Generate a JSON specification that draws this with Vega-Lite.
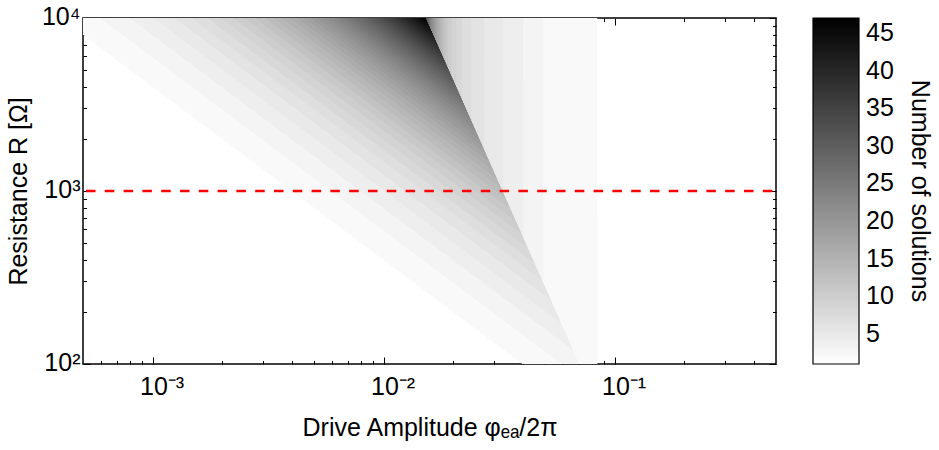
{
  "$schema": "https://vega.github.io/schema/vega-lite/v6.json",
  "width": 693,
  "height": 346,
  "autosize": "none",
  "padding": {"left": 83, "top": 18, "right": 163, "bottom": 86},
  "config": {
    "view": {"stroke": "#000000", "strokeWidth": 1.5},
    "font": "Liberation Sans",
    "axis": {"domain": false, "grid": false, "zindex": 1, "tickColor": "#000000", "tickWidth": 1, "labelColor": "#000000", "titleColor": "#000000", "labelFont": "Liberation Sans", "titleFont": "Liberation Sans", "labelFontSize": 25, "titleFontSize": 25, "titleFontWeight": "normal"}
  },
  "resolve": {"axis": {"x": "independent", "y": "independent"}},
  "datasets": {
    "bands": [
      {"n":2,"logPhi":-3.4,"logRlo":4.0019,"logRhi":4},{"n":2,"logPhi":-1.0749,"logRlo":1.6768,"logRhi":4},{"n":2,"logPhi":-1.0744,"logRlo":1.6763,"logRhi":1.766},{"n":2,"logPhi":-1.0302,"logRlo":1.6321,"logRhi":1.6321},
      {"n":3,"logPhi":-3.4,"logRlo":4.1713,"logRhi":4},{"n":3,"logPhi":-1.3087,"logRlo":2.0800,"logRhi":4},{"n":3,"logPhi":-1.3082,"logRlo":2.0795,"logRhi":2.468},{"n":3,"logPhi":-1.1149,"logRlo":1.8862,"logRhi":1.8862},
      {"n":4,"logPhi":-3.4,"logRlo":4.3009,"logRhi":4},{"n":4,"logPhi":-1.3952,"logRlo":2.2961,"logRhi":4},{"n":4,"logPhi":-1.3947,"logRlo":2.2956,"logRhi":2.727},{"n":4,"logPhi":-1.1797,"logRlo":2.0806,"logRhi":2.0806},
      {"n":5,"logPhi":-3.4,"logRlo":4.4058,"logRhi":4},{"n":5,"logPhi":-1.4818,"logRlo":2.4876,"logRhi":4},{"n":5,"logPhi":-1.4813,"logRlo":2.4871,"logRhi":2.987},{"n":5,"logPhi":-1.2322,"logRlo":2.2380,"logRhi":2.2380},
      {"n":6,"logPhi":-3.4,"logRlo":4.4940,"logRhi":4},{"n":6,"logPhi":-1.5641,"logRlo":2.6581,"logRhi":4},{"n":6,"logPhi":-1.5636,"logRlo":2.6576,"logRhi":3.234},{"n":6,"logPhi":-1.2763,"logRlo":2.3703,"logRhi":2.3703},
      {"n":7,"logPhi":-3.4,"logRlo":4.5699,"logRhi":4},{"n":7,"logPhi":-1.6203,"logRlo":2.7902,"logRhi":4},{"n":7,"logPhi":-1.6198,"logRlo":2.7897,"logRhi":3.402},{"n":7,"logPhi":-1.3142,"logRlo":2.4841,"logRhi":2.4841},
      {"n":8,"logPhi":-3.4,"logRlo":4.6368,"logRhi":4},{"n":8,"logPhi":-1.6593,"logRlo":2.8961,"logRhi":4},{"n":8,"logPhi":-1.6588,"logRlo":2.8956,"logRhi":3.519},{"n":8,"logPhi":-1.3477,"logRlo":2.5845,"logRhi":2.5845},
      {"n":9,"logPhi":-3.4,"logRlo":4.6964,"logRhi":4},{"n":9,"logPhi":-1.6853,"logRlo":2.9817,"logRhi":4},{"n":9,"logPhi":-1.6848,"logRlo":2.9812,"logRhi":3.597},{"n":9,"logPhi":-1.3775,"logRlo":2.6739,"logRhi":2.6739},
      {"n":10,"logPhi":-3.4,"logRlo":4.7502,"logRhi":4},{"n":10,"logPhi":-1.7069,"logRlo":3.0571,"logRhi":4},{"n":10,"logPhi":-1.7064,"logRlo":3.0566,"logRhi":3.662},{"n":10,"logPhi":-1.4044,"logRlo":2.7546,"logRhi":2.7546},
      {"n":11,"logPhi":-3.4,"logRlo":4.7992,"logRhi":4},{"n":11,"logPhi":-1.7221,"logRlo":3.1213,"logRhi":4},{"n":11,"logPhi":-1.7216,"logRlo":3.1208,"logRhi":3.708},{"n":11,"logPhi":-1.4289,"logRlo":2.8281,"logRhi":2.8281},
      {"n":12,"logPhi":-3.4,"logRlo":4.8443,"logRhi":4},{"n":12,"logPhi":-1.7329,"logRlo":3.1772,"logRhi":4},{"n":12,"logPhi":-1.7324,"logRlo":3.1767,"logRhi":3.740},{"n":12,"logPhi":-1.4514,"logRlo":2.8957,"logRhi":2.8957},
      {"n":13,"logPhi":-3.4,"logRlo":4.8860,"logRhi":4},{"n":13,"logPhi":-1.7416,"logRlo":3.2276,"logRhi":4},{"n":13,"logPhi":-1.7411,"logRlo":3.2271,"logRhi":3.766},{"n":13,"logPhi":-1.4723,"logRlo":2.9583,"logRhi":2.9583},
      {"n":14,"logPhi":-3.4,"logRlo":4.9247,"logRhi":4},{"n":14,"logPhi":-1.7481,"logRlo":3.2728,"logRhi":4},{"n":14,"logPhi":-1.7476,"logRlo":3.2723,"logRhi":3.786},{"n":14,"logPhi":-1.4916,"logRlo":3.0163,"logRhi":3.0163},
      {"n":15,"logPhi":-3.4,"logRlo":4.9609,"logRhi":4},{"n":15,"logPhi":-1.7545,"logRlo":3.3154,"logRhi":4},{"n":15,"logPhi":-1.7540,"logRlo":3.3149,"logRhi":3.805},{"n":15,"logPhi":-1.5097,"logRlo":3.0706,"logRhi":3.0706},
      {"n":16,"logPhi":-3.4,"logRlo":4.9949,"logRhi":4},{"n":16,"logPhi":-1.7610,"logRlo":3.3559,"logRhi":4},{"n":16,"logPhi":-1.7605,"logRlo":3.3554,"logRhi":3.8245},{"n":16,"logPhi":-1.5267,"logRlo":3.1216,"logRhi":3.1216},
      {"n":17,"logPhi":-3.4,"logRlo":5.0269,"logRhi":4},{"n":17,"logPhi":-1.7675,"logRlo":3.3944,"logRhi":4},{"n":17,"logPhi":-1.7670,"logRlo":3.3939,"logRhi":3.844},{"n":17,"logPhi":-1.5427,"logRlo":3.1696,"logRhi":3.1696},
      {"n":18,"logPhi":-3.4,"logRlo":5.0570,"logRhi":4},{"n":18,"logPhi":-1.7719,"logRlo":3.4289,"logRhi":4},{"n":18,"logPhi":-1.7714,"logRlo":3.4284,"logRhi":3.857},{"n":18,"logPhi":-1.5578,"logRlo":3.2148,"logRhi":3.2148},
      {"n":19,"logPhi":-3.4,"logRlo":5.0857,"logRhi":4},{"n":19,"logPhi":-1.7762,"logRlo":3.4619,"logRhi":4},{"n":19,"logPhi":-1.7757,"logRlo":3.4614,"logRhi":3.870},{"n":19,"logPhi":-1.5721,"logRlo":3.2578,"logRhi":3.2578},
      {"n":20,"logPhi":-3.4,"logRlo":5.1130,"logRhi":4},{"n":20,"logPhi":-1.7805,"logRlo":3.4935,"logRhi":4},{"n":20,"logPhi":-1.7800,"logRlo":3.4930,"logRhi":3.883},{"n":20,"logPhi":-1.5858,"logRlo":3.2988,"logRhi":3.2988},
      {"n":21,"logPhi":-3.4,"logRlo":5.1390,"logRhi":4},{"n":21,"logPhi":-1.7848,"logRlo":3.5238,"logRhi":4},{"n":21,"logPhi":-1.7843,"logRlo":3.5233,"logRhi":3.896},{"n":21,"logPhi":-1.5988,"logRlo":3.3378,"logRhi":3.3378},
      {"n":22,"logPhi":-3.4,"logRlo":5.1638,"logRhi":4},{"n":22,"logPhi":-1.7892,"logRlo":3.5530,"logRhi":4},{"n":22,"logPhi":-1.7887,"logRlo":3.5525,"logRhi":3.909},{"n":22,"logPhi":-1.6112,"logRlo":3.3750,"logRhi":3.3750},
      {"n":23,"logPhi":-3.4,"logRlo":5.1876,"logRhi":4},{"n":23,"logPhi":-1.7935,"logRlo":3.5811,"logRhi":4},{"n":23,"logPhi":-1.7930,"logRlo":3.5806,"logRhi":3.922},{"n":23,"logPhi":-1.6231,"logRlo":3.4107,"logRhi":3.4107},
      {"n":24,"logPhi":-3.4,"logRlo":5.2104,"logRhi":4},{"n":24,"logPhi":-1.7965,"logRlo":3.6069,"logRhi":4},{"n":24,"logPhi":-1.7960,"logRlo":3.6064,"logRhi":3.931},{"n":24,"logPhi":-1.6345,"logRlo":3.4449,"logRhi":3.4449},
      {"n":25,"logPhi":-3.4,"logRlo":5.2323,"logRhi":4},{"n":25,"logPhi":-1.7996,"logRlo":3.6319,"logRhi":4},{"n":25,"logPhi":-1.7991,"logRlo":3.6314,"logRhi":3.940},{"n":25,"logPhi":-1.6454,"logRlo":3.4777,"logRhi":3.4777},
      {"n":26,"logPhi":-3.4,"logRlo":5.2534,"logRhi":4},{"n":26,"logPhi":-1.8022,"logRlo":3.6556,"logRhi":4},{"n":26,"logPhi":-1.8017,"logRlo":3.6551,"logRhi":3.948},{"n":26,"logPhi":-1.6560,"logRlo":3.5094,"logRhi":3.5094},
      {"n":27,"logPhi":-3.4,"logRlo":5.2736,"logRhi":4},{"n":27,"logPhi":-1.8048,"logRlo":3.6784,"logRhi":4},{"n":27,"logPhi":-1.8043,"logRlo":3.6779,"logRhi":3.956},{"n":27,"logPhi":-1.6661,"logRlo":3.5397,"logRhi":3.5397},
      {"n":28,"logPhi":-3.4,"logRlo":5.2931,"logRhi":4},{"n":28,"logPhi":-1.8074,"logRlo":3.7005,"logRhi":4},{"n":28,"logPhi":-1.8069,"logRlo":3.7000,"logRhi":3.964},{"n":28,"logPhi":-1.6758,"logRlo":3.5689,"logRhi":3.5689},
      {"n":29,"logPhi":-3.4,"logRlo":5.3121,"logRhi":4},{"n":29,"logPhi":-1.8095,"logRlo":3.7216,"logRhi":4},{"n":29,"logPhi":-1.8090,"logRlo":3.7211,"logRhi":3.970},{"n":29,"logPhi":-1.6853,"logRlo":3.5974,"logRhi":3.5974},
      {"n":30,"logPhi":-3.4,"logRlo":5.3303,"logRhi":4},{"n":30,"logPhi":-1.8117,"logRlo":3.7420,"logRhi":4},{"n":30,"logPhi":-1.8112,"logRlo":3.7415,"logRhi":3.977},{"n":30,"logPhi":-1.6944,"logRlo":3.6247,"logRhi":3.6247},
      {"n":31,"logPhi":-3.4,"logRlo":5.3480,"logRhi":4},{"n":31,"logPhi":-1.8195,"logRlo":3.7675,"logRhi":4},{"n":31,"logPhi":-1.7033,"logRlo":3.6513,"logRhi":3.6513},
      {"n":32,"logPhi":-3.4,"logRlo":5.3651,"logRhi":4},{"n":32,"logPhi":-1.8195,"logRlo":3.7846,"logRhi":4},{"n":32,"logPhi":-1.7118,"logRlo":3.6769,"logRhi":3.6769},
      {"n":33,"logPhi":-3.4,"logRlo":5.3818,"logRhi":4},{"n":33,"logPhi":-1.8195,"logRlo":3.8013,"logRhi":4},{"n":33,"logPhi":-1.7202,"logRlo":3.7020,"logRhi":3.7020},
      {"n":34,"logPhi":-3.4,"logRlo":5.3980,"logRhi":4},{"n":34,"logPhi":-1.8195,"logRlo":3.8175,"logRhi":4},{"n":34,"logPhi":-1.7283,"logRlo":3.7263,"logRhi":3.7263},
      {"n":35,"logPhi":-3.4,"logRlo":5.4135,"logRhi":4},{"n":35,"logPhi":-1.8195,"logRlo":3.8330,"logRhi":4},{"n":35,"logPhi":-1.7360,"logRlo":3.7495,"logRhi":3.7495},
      {"n":36,"logPhi":-3.4,"logRlo":5.4288,"logRhi":4},{"n":36,"logPhi":-1.8195,"logRlo":3.8483,"logRhi":4},{"n":36,"logPhi":-1.7437,"logRlo":3.7725,"logRhi":3.7725},
      {"n":37,"logPhi":-3.4,"logRlo":5.4437,"logRhi":4},{"n":37,"logPhi":-1.8195,"logRlo":3.8632,"logRhi":4},{"n":37,"logPhi":-1.7511,"logRlo":3.7948,"logRhi":3.7948},
      {"n":38,"logPhi":-3.4,"logRlo":5.4581,"logRhi":4},{"n":38,"logPhi":-1.8195,"logRlo":3.8776,"logRhi":4},{"n":38,"logPhi":-1.7583,"logRlo":3.8164,"logRhi":3.8164},
      {"n":39,"logPhi":-3.4,"logRlo":5.4722,"logRhi":4},{"n":39,"logPhi":-1.8195,"logRlo":3.8917,"logRhi":4},{"n":39,"logPhi":-1.7654,"logRlo":3.8376,"logRhi":3.8376},
      {"n":40,"logPhi":-3.4,"logRlo":5.4860,"logRhi":4},{"n":40,"logPhi":-1.8195,"logRlo":3.9055,"logRhi":4},{"n":40,"logPhi":-1.7723,"logRlo":3.8583,"logRhi":3.8583},
      {"n":41,"logPhi":-3.4,"logRlo":5.4993,"logRhi":4},{"n":41,"logPhi":-1.8195,"logRlo":3.9188,"logRhi":4},{"n":41,"logPhi":-1.7789,"logRlo":3.8782,"logRhi":3.8782},
      {"n":42,"logPhi":-3.4,"logRlo":5.5123,"logRhi":4},{"n":42,"logPhi":-1.8195,"logRlo":3.9318,"logRhi":4},{"n":42,"logPhi":-1.7854,"logRlo":3.8977,"logRhi":3.8977},
      {"n":43,"logPhi":-3.4,"logRlo":5.5252,"logRhi":4},{"n":43,"logPhi":-1.8195,"logRlo":3.9447,"logRhi":4},{"n":43,"logPhi":-1.7919,"logRlo":3.9171,"logRhi":3.9171},
      {"n":44,"logPhi":-3.4,"logRlo":5.5376,"logRhi":4},{"n":44,"logPhi":-1.8195,"logRlo":3.9571,"logRhi":4},{"n":44,"logPhi":-1.7981,"logRlo":3.9357,"logRhi":3.9357},
      {"n":45,"logPhi":-3.4,"logRlo":5.5499,"logRhi":4},{"n":45,"logPhi":-1.8195,"logRlo":3.9694,"logRhi":4},{"n":45,"logPhi":-1.8042,"logRlo":3.9541,"logRhi":3.9541},
      {"n":46,"logPhi":-3.4,"logRlo":5.5619,"logRhi":4},{"n":46,"logPhi":-1.8195,"logRlo":3.9814,"logRhi":4},{"n":46,"logPhi":-1.8102,"logRlo":3.9721,"logRhi":3.9721},
      {"n":47,"logPhi":-3.4,"logRlo":5.5736,"logRhi":4},{"n":47,"logPhi":-1.8195,"logRlo":3.9931,"logRhi":4},{"n":47,"logPhi":-1.8161,"logRlo":3.9897,"logRhi":3.9897}
    ],
    "redline": [{"logR": 3}]
  },
  "layer": [
    {
      "data": {"name": "bands"},
      "mark": {"type": "area", "clip": true, "opacity": 1, "interpolate": "linear"},
      "encoding": {
        "x": {
          "field": "logPhi", "type": "quantitative",
          "scale": {"domain": [-3.30103, -0.30103], "nice": false, "zero": false},
          "axis": {
            "orient": "bottom", "offset": -7, "tickSize": 7,
            "values": [-3, -2, -1],
            "labelExpr": "datum.value === -3 ? '10⁻³' : datum.value === -2 ? '10⁻²' : '10⁻¹'",
            "labelOverlap": false, "labelFlush": false, "labelAlign": "left", "labelOffset": -13, "labelPadding": 10,
            "title": "Drive Amplitude φₑₐ/2π", "titlePadding": 16
          }
        },
        "y": {
          "field": "logRlo", "type": "quantitative", "stack": null,
          "scale": {"domain": [2, 4], "nice": false, "zero": false},
          "axis": {
            "orient": "left", "offset": -7, "tickSize": 7,
            "values": [2, 3, 4],
            "labelExpr": "datum.value === 2 ? '10²' : datum.value === 3 ? '10³' : '10⁴'",
            "labelOverlap": false, "labelFlush": false, "labelPadding": 3, "labelOffset": -2,
            "title": "Resistance R [Ω]", "titlePadding": 10
          }
        },
        "y2": {"field": "logRhi"},
        "color": {
          "field": "n", "type": "quantitative",
          "scale": {"type": "linear", "domain": [1, 47], "range": ["#ffffff", "#000000"], "interpolate": "rgb", "nice": false, "zero": false},
          "legend": {
            "title": "Number of solutions", "orient": "right", "offset": 36, "padding": 0, "direction": "vertical",
            "gradientLength": 346, "gradientThickness": 46, "gradientStrokeColor": "#000000", "gradientStrokeWidth": 1.2,
            "values": [5, 10, 15, 20, 25, 30, 35, 40, 45],
            "labelFont": "Liberation Sans", "labelFontSize": 25, "labelColor": "#000000", "labelOffset": 7,
            "titleFont": "Liberation Sans", "titleFontSize": 25, "titleFontWeight": "normal", "titleColor": "#000000", "titleLimit": 500,
            "titleOrient": "right", "titleAngle": 90, "titleAnchor": "middle", "titleAlign": "center", "titleBaseline": "alphabetic", "titlePadding": 18
          }
        }
      }
    },
    {
      "data": {"name": "redline"},
      "mark": {"type": "rule", "color": "#ff0000", "strokeWidth": 2.5, "strokeDash": [9.5, 9.3], "strokeDashOffset": -3},
      "encoding": {
        "y": {
          "field": "logR", "type": "quantitative",
          "axis": {"orient": "right", "offset": -7, "tickSize": 7, "values": [2, 3, 4], "labels": false, "title": null}
        },
        "x": {
          "datum": -3.30103, "type": "quantitative",
          "axis": {"orient": "top", "offset": -7, "tickSize": 7, "values": [-3, -2, -1], "labels": false, "title": null}
        },
        "x2": {"datum": -0.30103}
      }
    },
    {
      "data": {"name": "redline"},
      "mark": {"type": "rule", "opacity": 0},
      "encoding": {
        "y": {
          "field": "logR", "type": "quantitative",
          "axis": {"orient": "left", "offset": -3.5, "tickSize": 3.5, "values": [2.30103, 2.47712, 2.60206, 2.69897, 2.77815, 2.8451, 2.90309, 2.95424, 3.30103, 3.47712, 3.60206, 3.69897, 3.77815, 3.8451, 3.90309, 3.95424], "labels": false, "title": null}
        },
        "x": {
          "datum": -3.30103, "type": "quantitative",
          "axis": {"orient": "bottom", "offset": -3.5, "tickSize": 3.5, "values": [-3.22185, -3.1549, -3.09691, -3.04576, -2.69897, -2.52288, -2.39794, -2.30103, -2.22185, -2.1549, -2.09691, -2.04576, -1.69897, -1.52288, -1.39794, -1.30103, -1.22185, -1.1549, -1.09691, -1.04576, -0.69897, -0.52288, -0.39794], "labels": false, "title": null}
        },
        "x2": {"datum": -0.30103}
      }
    },
    {
      "data": {"name": "redline"},
      "mark": {"type": "rule", "opacity": 0},
      "encoding": {
        "y": {
          "field": "logR", "type": "quantitative",
          "axis": {"orient": "right", "offset": -3.5, "tickSize": 3.5, "values": [2.30103, 2.47712, 2.60206, 2.69897, 2.77815, 2.8451, 2.90309, 2.95424, 3.30103, 3.47712, 3.60206, 3.69897, 3.77815, 3.8451, 3.90309, 3.95424], "labels": false, "title": null}
        },
        "x": {
          "datum": -3.30103, "type": "quantitative",
          "axis": {"orient": "top", "offset": -3.5, "tickSize": 3.5, "values": [-3.22185, -3.1549, -3.09691, -3.04576, -2.69897, -2.52288, -2.39794, -2.30103, -2.22185, -2.1549, -2.09691, -2.04576, -1.69897, -1.52288, -1.39794, -1.30103, -1.22185, -1.1549, -1.09691, -1.04576, -0.69897, -0.52288, -0.39794], "labels": false, "title": null}
        },
        "x2": {"datum": -0.30103}
      }
    }
  ]
}
